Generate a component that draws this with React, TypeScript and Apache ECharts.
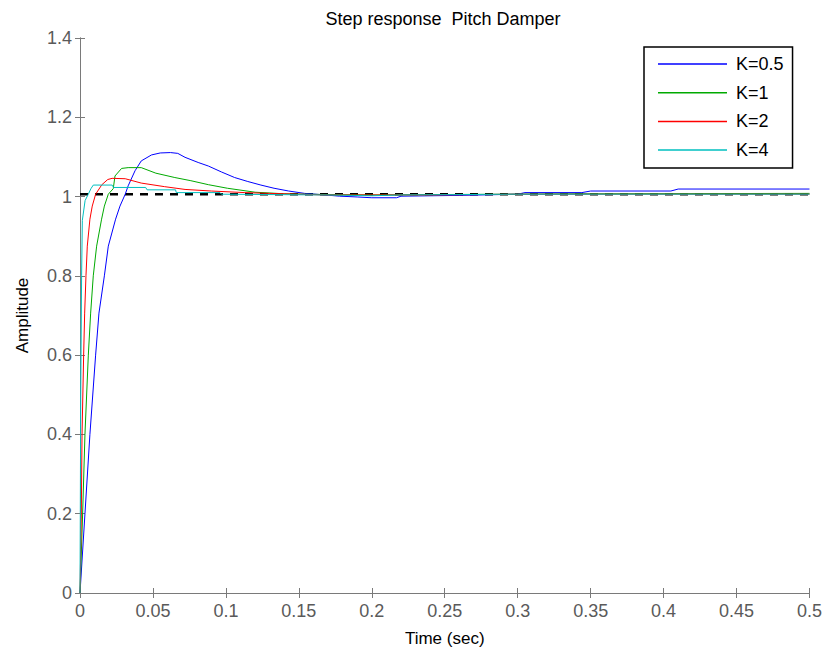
import React, { useEffect, useRef } from "react";
import * as echarts from "echarts";

const seriesNames = ["K=0.5", "K=1", "K=2", "K=4"];
const seriesColors = ["#0000ff", "#00aa00", "#ff0000", "#00bfbf"];

const xTicks = [0, 0.05, 0.1, 0.15, 0.2, 0.25, 0.3, 0.35, 0.4, 0.45, 0.5];
const yTicks = [0, 0.2, 0.4, 0.6, 0.8, 1, 1.2, 1.4];

const steadyState = 1.006;

const k05: [number, number][] = [
  [0, 0], [0.0034, 0.2], [0.0068, 0.4], [0.0107, 0.6], [0.013, 0.706], [0.0167, 0.8],
  [0.0194, 0.875], [0.0244, 0.943], [0.0274, 0.976],
  [0.031, 1.006], [0.033, 1.027], [0.0377, 1.065], [0.042, 1.09], [0.049, 1.105],
  [0.055, 1.11], [0.062, 1.111], [0.067, 1.109], [0.072, 1.099], [0.081, 1.086],
  [0.088, 1.077], [0.097, 1.062], [0.106, 1.048], [0.115, 1.038], [0.124, 1.029],
  [0.133, 1.021], [0.143, 1.014], [0.154, 1.008], [0.165, 1.005], [0.178, 1.001],
  [0.19, 0.999], [0.2, 0.997], [0.217, 0.997], [0.22, 1.001], [0.26, 1.003],
  [0.3, 1.006], [0.305, 1.01], [0.344, 1.01], [0.35, 1.014], [0.405, 1.014],
  [0.41, 1.019], [0.5, 1.019],
];

const k1: [number, number][] = [
  [0, 0], [0.0018, 0.2], [0.0034, 0.4], [0.0057, 0.6], [0.0073, 0.706], [0.0091, 0.8],
  [0.0114, 0.875], [0.0148, 0.943], [0.0167, 0.976],
  [0.0194, 1.006], [0.0228, 1.02], [0.024, 1.052], [0.0285, 1.071], [0.033, 1.073],
  [0.042, 1.073], [0.052, 1.059], [0.065, 1.048], [0.076, 1.04], [0.088, 1.03],
  [0.101, 1.021], [0.12, 1.011], [0.14, 1.007], [0.17, 1.005], [0.2, 1.004],
  [0.24, 1.005], [0.3, 1.006], [0.342, 1.007], [0.5, 1.008],
];

const k2: [number, number][] = [
  [0, 0], [0.0009, 0.2], [0.0014, 0.4], [0.0025, 0.6], [0.0032, 0.706], [0.0041, 0.8],
  [0.005, 0.875], [0.0068, 0.943], [0.0084, 0.976],
  [0.0107, 1.006], [0.015, 1.03], [0.019, 1.043], [0.022, 1.046], [0.031, 1.045],
  [0.042, 1.034], [0.058, 1.025], [0.072, 1.018], [0.09, 1.014], [0.113, 1.01],
  [0.13, 1.008], [0.15, 1.006], [0.168, 1.004], [0.2, 1.004], [0.24, 1.004],
  [0.3, 1.006], [0.5, 1.006],
];

const k4: [number, number][] = [
  [0, 0], [0.0005, 0.5], [0.0011, 0.8], [0.0016, 0.94], [0.0035, 0.99], [0.0057, 1.006],
  [0.0075, 1.02], [0.0091, 1.029], [0.022, 1.029], [0.023, 1.023], [0.045, 1.023],
  [0.046, 1.017], [0.0655, 1.017], [0.066, 1.01], [0.096, 1.01], [0.097, 1.006],
  [0.17, 1.004], [0.2, 1.002], [0.22, 1.004], [0.3, 1.006], [0.5, 1.006],
];

const seriesData = [k05, k1, k2, k4];

const FONT = "'Liberation Sans', Arial, Helvetica, sans-serif";

function fmt(v: number): string {
  return String(Math.round(v * 100) / 100);
}

export default function App() {
  const ref = useRef<HTMLDivElement>(null);

  useEffect(() => {
    if (!ref.current) return;
    const chart = echarts.init(ref.current, undefined, { renderer: "svg" });
    const axisColor = "#7a7a7a";
    const labelColor = "#5a5a5a";

    const lineSeries = seriesData.map((d, i) => ({
      name: seriesNames[i],
      type: "line",
      data: d,
      showSymbol: false,
      symbol: "none",
      lineStyle: { color: seriesColors[i], width: 1 },
      itemStyle: { color: seriesColors[i] },
      z: 3,
    }));

    const xBase = {
      type: "value",
      min: xTicks[0],
      max: xTicks[xTicks.length - 1],
      interval: 0.05,
      splitLine: { show: false },
      axisLine: { show: true, lineStyle: { color: axisColor, width: 1 } },
      axisTick: { show: true, inside: true, length: 5, lineStyle: { color: axisColor } },
    };
    const yBase = {
      type: "value",
      min: yTicks[0],
      max: yTicks[yTicks.length - 1],
      interval: 0.2,
      splitLine: { show: false },
      axisLine: { show: true, lineStyle: { color: axisColor, width: 1 } },
      axisTick: { show: true, inside: true, length: 5, lineStyle: { color: axisColor } },
    };

    chart.setOption({
      animation: false,
      backgroundColor: "#ffffff",
      title: {
        text: "Step response  Pitch Damper",
        left: 438,
        textAlign: "center",
        top: 5,
        textStyle: { fontFamily: FONT, fontSize: 18, fontWeight: "normal", color: "#000" },
      },
      grid: { left: 80, right: 15, top: 38, bottom: 65, containLabel: false },
      legend: {
        data: seriesNames,
        orient: "vertical",
        left: 644,
        top: 47,
        padding: [8, 9, 9, 14],
        itemGap: 10.7,
        itemWidth: 69,
        itemHeight: 1.5,
        icon: "rect",
        backgroundColor: "#ffffff",
        borderColor: "#000000",
        borderWidth: 1.5,
        borderRadius: 0,
        textStyle: { fontFamily: FONT, fontSize: 18, color: "#000", padding: [0, 0, 0, 4] },
      },
      xAxis: [
        {
          ...xBase,
          name: "Time (sec)",
          nameLocation: "middle",
          nameGap: 37,
          nameTextStyle: { fontFamily: FONT, fontSize: 17, color: "#000" },
          axisLabel: {
            fontFamily: FONT,
            fontSize: 18,
            color: labelColor,
            margin: 9,
            formatter: (v: number) => fmt(v),
          },
        },
        { ...xBase, position: "top", axisLabel: { show: false } },
      ],
      yAxis: [
        {
          ...yBase,
          name: "Amplitude",
          nameLocation: "middle",
          nameGap: 49,
          nameTextStyle: { fontFamily: FONT, fontSize: 17, color: "#000" },
          axisLabel: {
            fontFamily: FONT,
            fontSize: 18,
            color: labelColor,
            margin: 8,
            formatter: (v: number) => fmt(v),
          },
        },
        { ...yBase, position: "right", axisLabel: { show: false } },
      ],
      series: [
        {
          name: "steady",
          type: "line",
          data: [
            [xTicks[0], steadyState],
            [xTicks[xTicks.length - 1], steadyState],
          ],
          showSymbol: false,
          symbol: "none",
          lineStyle: { color: "#000", width: 2.5, type: [8, 7] },
          z: 2,
        },
        ...lineSeries,
      ],
    });
    return () => chart.dispose();
  }, []);

  return (
    <div
      ref={ref}
      style={{ position: "fixed", left: 0, top: 0, width: 825, height: 658, background: "#fff" }}
    />
  );
}
